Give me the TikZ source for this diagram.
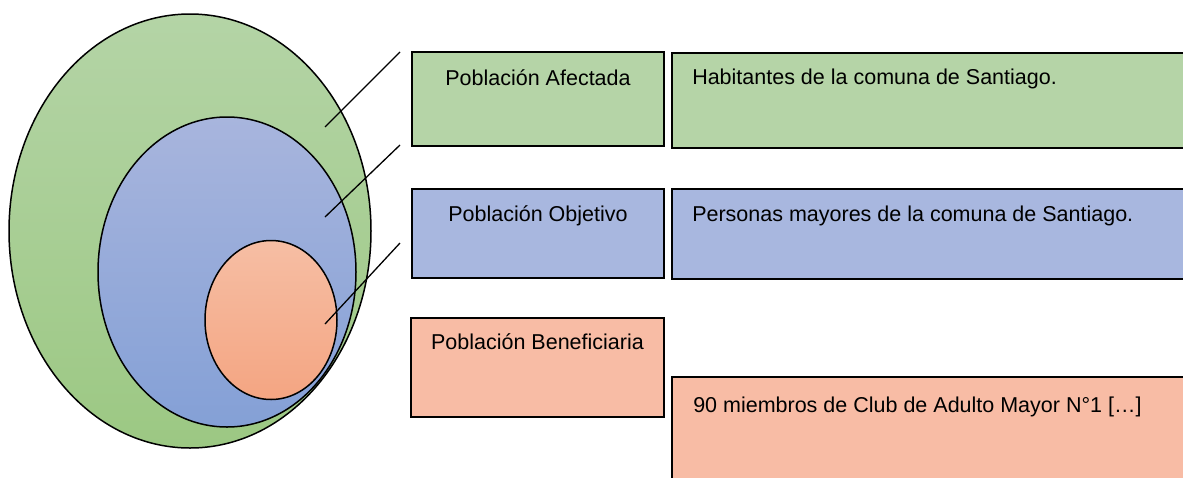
\documentclass[tikz,border=0pt]{standalone}
\usepackage{fontspec}
\setmainfont{Liberation Sans}
\usepackage{tikz}
\usetikzlibrary{positioning}
\usetikzlibrary{shapes.geometric}
\usepackage{xcolor}
\definecolor{boxgreen}{RGB}{181,212,167}
\definecolor{boxblue}{RGB}{168,183,223}
\definecolor{boxsalmon}{RGB}{248,188,165}
\definecolor{greentop}{RGB}{180,212,166}
\definecolor{greenbot}{RGB}{156,200,131}
\definecolor{bluetop}{RGB}{168,181,221}
\definecolor{bluebot}{RGB}{132,160,214}
\definecolor{salmontop}{RGB}{246,190,164}
\definecolor{salmonbot}{RGB}{244,165,130}
\tikzset{
  every label/.style={font=\fontsize{21.5}{25}\selectfont, inner sep=0pt}
}

\begin{document}
\begin{tikzpicture}[x=1pt,y=-1pt]
  \tikzset{
    set/.style={
      draw=black,
      ellipse,
      inner sep=0pt,
      line width=1.5pt
    },
    infobox/.style={
      draw=black,
      rectangle,
      inner sep=0pt,
      line width=1.9pt
    },
    leader/.style={
      draw=black,
      line width=1.3pt
    }
  }
  \clip (0,0) rectangle (1183,477);

  % Sets
  \node[set, top color=greentop, bottom color=greenbot,
    minimum width=362pt, minimum height=434pt] (afectada) at (190,231) {};
  \node[set, top color=bluetop, bottom color=bluebot,
    minimum width=258pt, minimum height=310pt] (objetivo) at (227,272) {};
  \node[set, top color=salmontop, bottom color=salmonbot,
    minimum width=132pt, minimum height=159pt] (beneficiaria) at (271,320) {};

  % Titles
  \node[infobox, fill=boxgreen, minimum width=252pt, minimum height=94pt,
    label={[anchor=base, yshift=-34pt]north:Población Afectada}] (tafect) at (538,99) {};
  \node[infobox, fill=boxblue, minimum width=252pt, minimum height=89pt,
    label={[anchor=base, yshift=-33pt]north:Población Objetivo}] (tobj) at (538,233.5) {};
  \node[infobox, fill=boxsalmon, minimum width=253pt, minimum height=99pt,
    label={[anchor=base, yshift=-32pt]north:Población Beneficiaria}] (tbenef) at (537.5,367.5) {};

  % Descriptions
  \node[infobox, fill=boxgreen, minimum width=528pt, minimum height=95pt,
    label={[anchor=base west, xshift=21pt, yshift=-32pt]north west:Habitantes de la comuna de Santiago.}] (dafect) at (936,100.5) {};
  \node[infobox, fill=boxblue, minimum width=528pt, minimum height=90pt,
    label={[anchor=base west, xshift=21pt, yshift=-33pt]north west:Personas mayores de la comuna de Santiago.}] (dobj) at (936,234) {};
  \node[infobox, fill=boxsalmon, minimum width=528pt, minimum height=123pt,
    label={[anchor=base west, xshift=22pt, yshift=-36pt]north west:90 miembros de Club de Adulto Mayor N°1 […]}] (dbenef) at (936,438.5) {};

  % Leader lines
  \coordinate (la1) at (400,52);
  \coordinate (la2) at (325,127);
  \coordinate (lo1) at (400,145);
  \coordinate (lo2) at (325,217);
  \coordinate (lb1) at (400,243);
  \coordinate (lb2) at (325,324);
  \draw[leader] (la1) -- (la2);
  \draw[leader] (lo1) -- (lo2);
  \draw[leader] (lb1) -- (lb2);
\end{tikzpicture}
\end{document}
